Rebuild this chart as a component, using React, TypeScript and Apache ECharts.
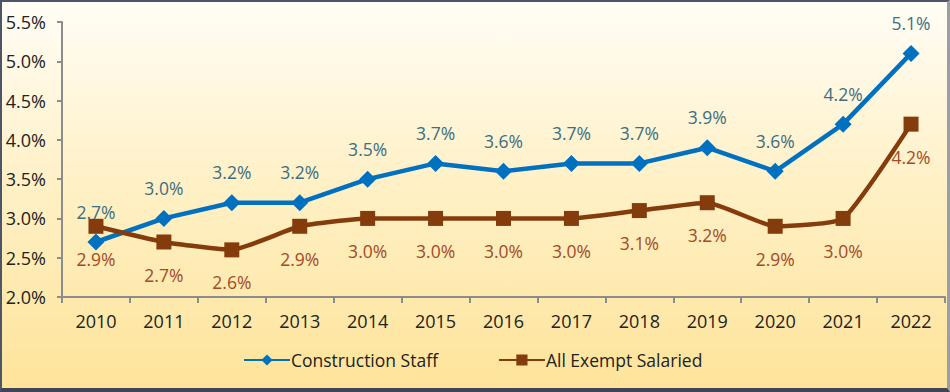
import React, { useEffect, useRef } from "react";
import * as echarts from "echarts";

const years = ["2010", "2011", "2012", "2013", "2014", "2015", "2016", "2017", "2018", "2019", "2020", "2021", "2022"];
const constructionStaff = [2.7, 3.0, 3.2, 3.2, 3.5, 3.7, 3.6, 3.7, 3.7, 3.9, 3.6, 4.2, 5.1];
const allExemptSalaried = [2.9, 2.7, 2.6, 2.9, 3.0, 3.0, 3.0, 3.0, 3.1, 3.2, 2.9, 3.0, 4.2];
const seriesNames = ["Construction Staff", "All Exempt Salaried"];

const FONT = "'Open Sans', 'Noto Sans', sans-serif";

export default function App() {
  const ref = useRef<HTMLDivElement>(null);
  useEffect(() => {
    if (!ref.current) return;
    const chart = echarts.init(ref.current, null, { renderer: "svg" });
    const pct = (p: any) => Number(p.value).toFixed(1) + "%";
    chart.setOption({
      animation: false,
      textStyle: { fontFamily: FONT },
      grid: { left: 60, right: 2, top: 20, bottom: 91, containLabel: false },
      xAxis: {
        type: "category",
        data: years,
        boundaryGap: true,
        axisLine: { lineStyle: { color: "#8c8c8c", width: 2 } },
        axisTick: { show: true, length: 6, lineStyle: { color: "#8c8c8c", width: 2 } },
        axisLabel: { color: "#222222", fontSize: 18, fontFamily: FONT, margin: 15 },
        splitLine: { show: false },
      },
      yAxis: {
        type: "value",
        min: 2,
        max: 5.5,
        interval: 0.5,
        axisLine: { show: true, lineStyle: { color: "#8c8c8c", width: 2 } },
        axisTick: { show: true, length: 5, lineStyle: { color: "#8c8c8c", width: 2 } },
        axisLabel: {
          color: "#222222",
          fontSize: 18,
          fontFamily: FONT,
          margin: 16,
          formatter: (v: number) => v.toFixed(1) + "%",
        },
        splitLine: { show: false },
      },
      legend: {
        top: 344,
        left: 236,
        itemWidth: 46,
        itemHeight: 14,
        itemGap: 60,
        textStyle: { color: "#222222", fontSize: 17.5, fontFamily: FONT, padding: [0, 0, 0, -4] },
        data: seriesNames,
      },
      series: [
        {
          name: seriesNames[0],
          type: "line",
          data: constructionStaff,
          symbol: "diamond",
          symbolSize: 17,
          itemStyle: { color: "#0070c0" },
          lineStyle: { color: "#0070c0", width: 4.5 },
          label: {
            show: true,
            position: "top",
            distance: 13,
            color: "#3d6f82",
            fontSize: 17.5,
            fontFamily: FONT,
            formatter: pct,
          },
        },
        {
          name: seriesNames[1],
          type: "line",
          data: allExemptSalaried,
          symbol: "rect",
          symbolSize: 15,
          smooth: 0.15,
          itemStyle: { color: "#843c0c" },
          lineStyle: { color: "#843c0c", width: 4.5 },
          label: {
            show: true,
            position: "bottom",
            distance: 16,
            color: "#a34a28",
            fontSize: 17.5,
            fontFamily: FONT,
            formatter: pct,
          },
        },
      ],
    });
    return () => chart.dispose();
  }, []);
  return (
    <div
      style={{
        position: "fixed",
        left: 0,
        top: 0,
        width: 950,
        height: 392,
        boxSizing: "border-box",
        borderTop: "2px solid #4e5566",
        borderLeft: "2px solid #4e5566",
        borderBottom: "4px solid #3e4454",
        borderRight: "3px solid #9a9ea8",
        background: "linear-gradient(to bottom, #fffdf6 0%, #fff1c8 45%, #fee49a 100%)",
      }}
    >
      <div ref={ref} style={{ width: 945, height: 386 }} />
    </div>
  );
}
